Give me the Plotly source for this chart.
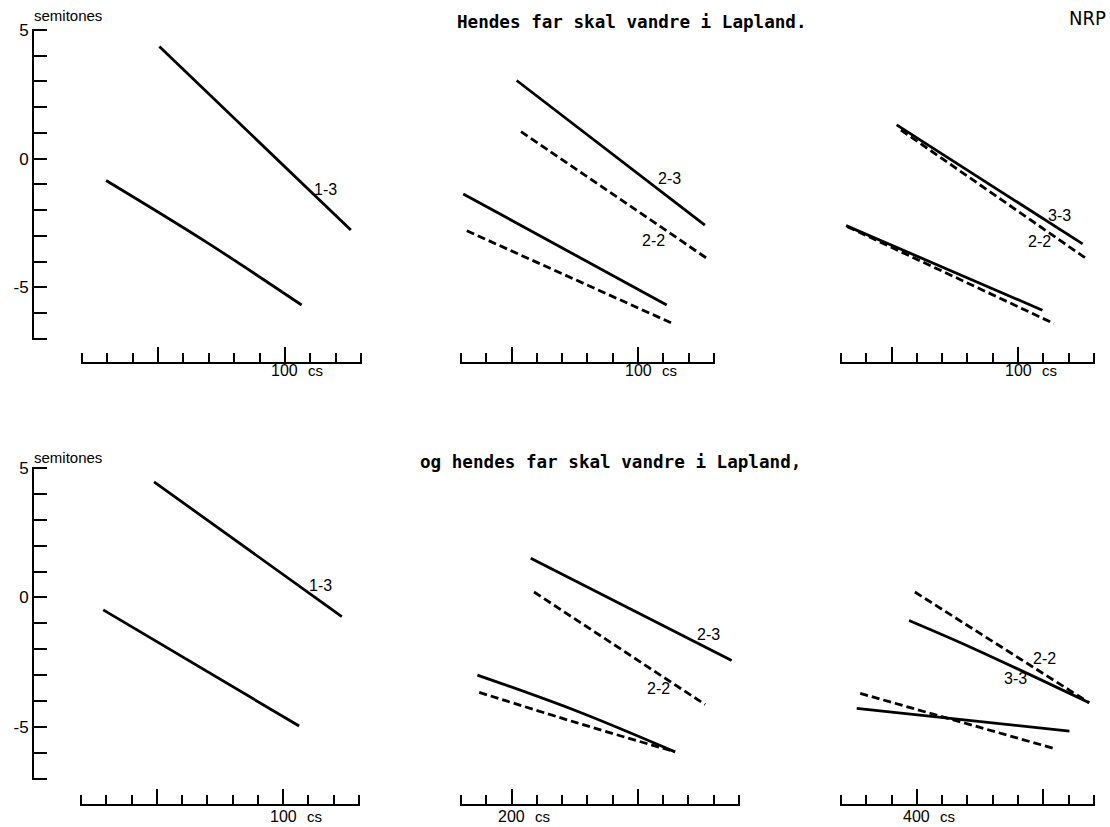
import plotly.graph_objects as go

# ---------------------------------------------------------------
# Fundamental-frequency declination lines (semitones vs. time, cs)
# Row 1: "Hendes far skal vandre i Lapland."
# Row 2: "og hendes far skal vandre i Lapland,"
# ---------------------------------------------------------------

# Row 1, panel 1 (focus 1-3)
r1p1_top_x = [50.5, 126.0]
r1p1_top_y = [4.35, -2.77]
r1p1_base_x = [29.5, 69.2, 106.6]
r1p1_base_y = [-0.85, -3.25, -5.68]

# Row 1, panel 2 (2-3 solid, 2-2 dashed)
r1p2_top23_x = [52.0, 126.4]
r1p2_top23_y = [3.03, -2.58]
r1p2_top22_x = [53.7, 127.8]
r1p2_top22_y = [1.05, -3.91]
r1p2_base23_x = [30.9, 111.3]
r1p2_base23_y = [-1.37, -5.68]
r1p2_base22_x = [32.3, 113.7]
r1p2_base22_y = [-2.80, -6.40]

# Row 1, panel 3 (3-3 solid, 2-2 dashed)
r1p3_top33_x = [52.0, 125.5]
r1p3_top33_y = [1.31, -3.31]
r1p3_top22_x = [53.7, 127.4]
r1p3_top22_y = [1.11, -3.91]
r1p3_base33_x = [32.0, 109.6]
r1p3_base33_y = [-2.60, -5.88]
r1p3_base22_x = [32.5, 114.2]
r1p3_base22_y = [-2.64, -6.40]

# Row 2, panel 1 (focus 1-3)
r2p1_top_x = [48.9, 123.2]
r2p1_top_y = [4.47, -0.74]
r2p1_base_x = [28.8, 106.3]
r2p1_base_y = [-0.48, -4.97]

# Row 2, panel 2
r2p2_top23_x = [207.6, 287.1]
r2p2_top23_y = [1.52, -2.44]
r2p2_top22_x = [208.9, 276.6]
r2p2_top22_y = [0.21, -4.14]
r2p2_base23_x = [186.5, 226.0, 264.7]
r2p2_base23_y = [-3.00, -4.40, -5.97]
r2p2_base22_x = [187.2, 226.0, 264.7]
r2p2_base22_y = [-3.67, -4.85, -5.97]

# Row 2, panel 3
r2p3_top22_x = [399.2, 468.1]
r2p3_top22_y = [0.21, -4.07]
r2p3_top33_x = [396.9, 422.3, 468.1]
r2p3_top33_y = [-0.89, -1.97, -4.07]
r2p3_base22_x = [377.6, 455.0]
r2p3_base22_y = [-3.71, -5.86]
r2p3_base33_x = [376.2, 460.3]
r2p3_base33_y = [-4.29, -5.17]

# Curve labels: (panel, x, y, text)
label_panel = [1, 2, 2, 3, 3, 4, 5, 5, 6, 6]
label_x = [116.0, 112.3, 106.0, 116.2, 108.4, 114.9, 277.9, 258.1, 450.6, 438.8]
label_y = [-1.2, -0.77, -3.16, -2.19, -3.22, 0.47, -1.42, -3.51, -2.35, -3.15]
label_text = ["1-3", "2-3", "2-2", "3-3", "2-2", "1-3", "2-3", "2-2", "2-2", "3-3"]

# Time axes per panel: range (cs), long ticks, labelled tick
x_ranges = [[20, 130], [30, 130], [30, 130], [20, 130], [180, 290], [370, 470]]
x_major = [[50, 100], [50, 100], [50, 100], [50, 100], [200, 250], [400, 450]]
x_labelled = [100, 100, 100, 100, 200, 400]

y_range = [-7, 5]
y_tickvals = [-5, 0, 5]
y_ticktext = ["-5", "0", "5"]

titles = ["Hendes far skal vandre i Lapland.", "og hendes far skal vandre i Lapland,"]

# ---------------------------------------------------------------
W, H = 1110, 827
# vertical placement calibration of the page
V_OFF, V_SCALE = 7.3, 0.9893


def fx(p):
    return p / W


def fy(p):
    q = (p - V_OFF) / V_SCALE
    return 1 - q / H


SANS = "Liberation Sans, Arial, sans-serif"
MONO = "DejaVu Sans Mono, monospace"
LW = 2.8
DASH = "8px,4px"
PAD_X = 0.4   # cs beyond the end ticks
PAD_Y = 0.04  # semitones beyond the end ticks

fig = go.Figure()


def add_line(xs, ys, panel, dashed=False):
    sfx = "" if panel == 1 else str(panel)
    fig.add_trace(go.Scatter(
        x=xs, y=ys, mode="lines", xaxis="x" + sfx, yaxis="y" + sfx,
        line=dict(color="black", width=LW, dash=DASH if dashed else "solid",
                  shape="spline", smoothing=1.0),
        hoverinfo="skip", showlegend=False,
    ))


add_line(r1p1_top_x, r1p1_top_y, 1)
add_line(r1p1_base_x, r1p1_base_y, 1)

add_line(r1p2_top23_x, r1p2_top23_y, 2)
add_line(r1p2_top22_x, r1p2_top22_y, 2, True)
add_line(r1p2_base23_x, r1p2_base23_y, 2)
add_line(r1p2_base22_x, r1p2_base22_y, 2, True)

add_line(r1p3_top33_x, r1p3_top33_y, 3)
add_line(r1p3_top22_x, r1p3_top22_y, 3, True)
add_line(r1p3_base33_x, r1p3_base33_y, 3)
add_line(r1p3_base22_x, r1p3_base22_y, 3, True)

add_line(r2p1_top_x, r2p1_top_y, 4)
add_line(r2p1_base_x, r2p1_base_y, 4)

add_line(r2p2_top23_x, r2p2_top23_y, 5)
add_line(r2p2_top22_x, r2p2_top22_y, 5, True)
add_line(r2p2_base23_x, r2p2_base23_y, 5)
add_line(r2p2_base22_x, r2p2_base22_y, 5, True)

add_line(r2p3_top22_x, r2p3_top22_y, 6, True)
add_line(r2p3_top33_x, r2p3_top33_y, 6)
add_line(r2p3_base22_x, r2p3_base22_y, 6, True)
add_line(r2p3_base33_x, r2p3_base33_y, 6)

# Panel geometry (pixels, end tick to end tick)
x_dom_px = [[82, 361], [461, 714], [841, 1094], [81, 359], [461, 739], [841, 1094]]
y_dom_px = [[29, 338], [467, 777]]
x_axis_px = [362, 803]
x_label_px = [369, 815]
y_axis_px = 33

layout = dict(
    width=W, height=H,
    margin=dict(l=0, r=0, t=0, b=0),
    paper_bgcolor="white", plot_bgcolor="white",
    showlegend=False,
)

annotations = []
for i in range(6):
    row = 0 if i < 3 else 1
    sfx = "" if i == 0 else str(i + 1)
    lo, hi = x_ranges[i]
    p0, p1 = x_dom_px[i]
    sx = (p1 - p0) / (hi - lo)
    layout["xaxis" + sfx] = dict(
        domain=[fx(p0 - PAD_X * sx), fx(p1 + PAD_X * sx)],
        range=[lo - PAD_X, hi + PAD_X],
        anchor="free", position=fy(x_axis_px[row]),
        showline=True, linewidth=2, linecolor="black",
        showgrid=False, zeroline=False,
        tickmode="array", tickvals=x_major[i], showticklabels=False,
        ticks="inside", ticklen=15, tickwidth=2, tickcolor="black",
        minor=dict(tickmode="linear", tick0=0, dtick=10, ticks="inside",
                   ticklen=9, tickwidth=2, tickcolor="black"),
        fixedrange=True,
    )
    t0, t1 = y_dom_px[row]
    sy = (t1 - t0) / (y_range[1] - y_range[0])
    ydef = dict(
        domain=[fy(t1 + PAD_Y * sy), fy(t0 - PAD_Y * sy)],
        range=[y_range[0] - PAD_Y, y_range[1] + PAD_Y],
        showgrid=False, zeroline=False,
        fixedrange=True,
    )
    if i in (0, 3):
        ydef.update(
            anchor="free", position=fx(y_axis_px), side="left",
            showline=True, linewidth=2, linecolor="black",
            tickmode="array", tickvals=y_tickvals, ticktext=y_ticktext,
            ticks="inside", ticklen=13, tickwidth=2, tickcolor="black",
            tickfont=dict(family=SANS, size=17, color="black"),
            minor=dict(tickmode="linear", tick0=0, dtick=1, ticks="inside",
                       ticklen=13, tickwidth=2, tickcolor="black"),
        )
    else:
        ydef.update(visible=False, anchor="x" + sfx)
    layout["yaxis" + sfx] = ydef

    # labelled time tick and its unit
    annotations.append(dict(
        xref="x" + sfx, yref="paper", x=x_labelled[i], y=fy(x_label_px[row]),
        text=str(x_labelled[i]), showarrow=False, xanchor="center", yanchor="middle",
        font=dict(family=SANS, size=16, color="black"),
    ))
    annotations.append(dict(
        xref="x" + sfx, yref="paper", x=x_labelled[i] + 8.5, y=fy(x_label_px[row]),
        text="cs", showarrow=False, xanchor="left", yanchor="middle",
        font=dict(family=SANS, size=15, color="black"),
    ))

# curve labels
for p, x, y, t in zip(label_panel, label_x, label_y, label_text):
    sfx = "" if p == 1 else str(p)
    annotations.append(dict(
        xref="x" + sfx, yref="y" + sfx, x=x, y=y, text=t, showarrow=False,
        xanchor="center", yanchor="middle",
        font=dict(family=SANS, size=16, color="black"),
    ))

# y-axis unit
for yc in (15, 456):
    annotations.append(dict(
        xref="paper", yref="paper", x=fx(68), y=fy(yc), text="semitones",
        showarrow=False, xanchor="center", yanchor="middle",
        font=dict(family=SANS, size=15, color="black"),
    ))

# sentence titles
annotations.append(dict(
    xref="paper", yref="paper", x=fx(455), y=fy(21), text=titles[0],
    showarrow=False, xanchor="left", yanchor="middle",
    font=dict(family=MONO, size=17.6, color="black", weight="bold"),
))
annotations.append(dict(
    xref="paper", yref="paper", x=fx(418), y=fy(461), text=titles[1],
    showarrow=False, xanchor="left", yanchor="middle",
    font=dict(family=MONO, size=17.6, color="black", weight="bold"),
))

# speaker tag
annotations.append(dict(
    xref="paper", yref="paper", x=fx(1108), y=fy(17), text="NRP",
    showarrow=False, xanchor="right", yanchor="middle",
    font=dict(family="Liberation Sans Narrow, DejaVu Sans Condensed, Liberation Sans",
              size=20, color="black"),
))

layout["annotations"] = annotations
fig.update_layout(**layout)

fig.write_html("out.html")
